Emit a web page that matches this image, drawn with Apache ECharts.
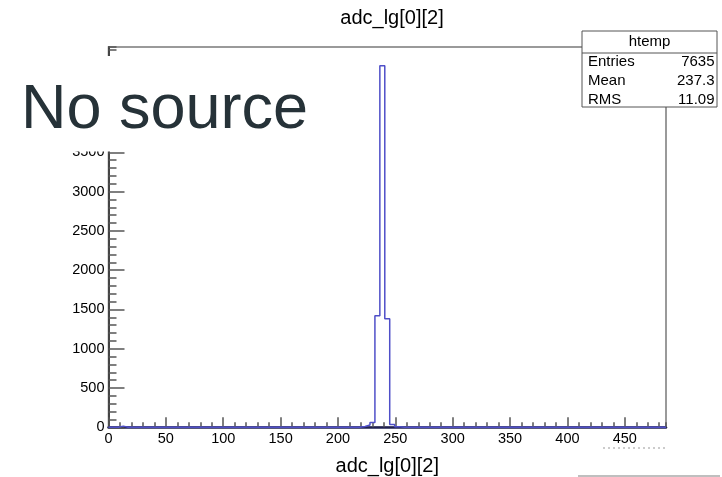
<!DOCTYPE html>
<html>
<head>
<meta charset="utf-8">
<script src="https://cdn.jsdelivr.net/npm/echarts@6/dist/echarts.min.js"></script>
<style>
  html, body { margin: 0; padding: 0; background: #fff; }
  #chart { width: 722px; height: 477px; }
</style>
</head>
<body>
<div id="chart"></div>
<script>
// Histogram of adc_lg[0][2]: fixed-width bins, only non-empty bins listed
const binWidth = 4.3;
const nBins = 113;
const binIndex = [2, 51, 52, 53, 54, 55, 56, 57, 58];
const binCount = [15, 10, 30, 60, 1420, 4600, 1380, 35, 8];

// Axis settings
const xMax = nBins * binWidth;
const yMax = 4840;
const xMajor = 50, xMinor = 10;
const yMajor = 500, yMinor = 100;

// Statistics box
const statsTitle = 'htemp';
const statsNames = ['Entries', 'Mean', 'RMS'];
const statsValues = ['7635', '237.3', '11.09'];

const FONT = '"Liberation Sans", Arial, Helvetica, sans-serif';

// Expand into one count per bin, then into step outline points
const counts = new Array(nBins).fill(0);
binIndex.forEach((b, i) => { counts[b] = binCount[i]; });
const outline = counts.map((c, i) => [i * binWidth, c]);
outline.push([nBins * binWidth, 0]);

const chart = echarts.init(document.getElementById('chart'));

const G = { left: 108.5, top: 47, right: 722 - 666, bottom: 477 - 427.3 };

const graphics = [
  // label panel over the upper-left corner
  { type: 'rect', z: 100, shape: { x: 0, y: 56, width: 320, height: 95.5 }, style: { fill: '#fff' } },
  { type: 'text', z: 101, left: 21, top: 79,
    style: { text: 'No source', fontSize: 63, fontFamily: FONT, fill: '#263238' } },
  // stats box
  { type: 'rect', z: 100, shape: { x: 582, y: 31, width: 135, height: 76 },
    style: { fill: '#fff', stroke: '#555', lineWidth: 1 } },
  { type: 'line', z: 101, shape: { x1: 582, y1: 53, x2: 717, y2: 53 }, style: { stroke: '#555', lineWidth: 1 } },
  { type: 'text', z: 101, x: 649.5, y: 42,
    style: { text: statsTitle, fontSize: 15, fontFamily: FONT, fill: '#000', align: 'center', verticalAlign: 'middle' } },
  // footer rule
  { type: 'line', z: 100, shape: { x1: 578, y1: 476, x2: 720, y2: 476 }, style: { stroke: '#aaa', lineWidth: 1.5 } },
  { type: 'line', z: 100, shape: { x1: 603, y1: 448, x2: 666, y2: 448 }, style: { stroke: '#999', lineWidth: 1, lineDash: [2, 3] } }
];
statsNames.forEach((n, i) => {
  const y = 61.5 + i * 19;
  graphics.push({ type: 'text', z: 101, x: 588, y: y,
    style: { text: n, fontSize: 15, fontFamily: FONT, fill: '#000', align: 'left', verticalAlign: 'middle' } });
  graphics.push({ type: 'text', z: 101, x: 714.5, y: y,
    style: { text: statsValues[i], fontSize: 15, fontFamily: FONT, fill: '#000', align: 'right', verticalAlign: 'middle' } });
});

chart.setOption({
  animation: false,
  backgroundColor: '#fff',
  title: {
    text: 'adc_lg[0][2]',
    left: 387, top: 3, textAlign: 'center',
    textStyle: { fontSize: 20, fontWeight: 'normal', fontFamily: FONT, color: '#000' }
  },
  grid: { ...G, outerBoundsMode: 'none', containLabel: false, show: true,
    borderColor: '#7a7a7a', borderWidth: 1.5, backgroundColor: '#fff' },
  xAxis: [
    {
      type: 'value', min: 0, max: xMax, interval: xMajor,
      name: 'adc_lg[0][2]', nameLocation: 'middle', nameGap: 29,
      nameTextStyle: { fontSize: 20, fontFamily: FONT, color: '#000' },
      axisLine: { show: true, lineStyle: { color: '#1f2050', width: 2.5 } },
      axisTick: { show: true, inside: true, length: 10, lineStyle: { color: '#555', width: 1.5 } },
      axisLabel: { showMaxLabel: false, fontSize: 14.5, fontFamily: FONT, color: '#000', margin: 4,
        formatter: v => String(Math.round(v)) },
      splitLine: { show: false }
    },
    {
      type: 'value', min: 0, max: xMax, interval: xMinor, position: 'bottom',
      axisLine: { show: false },
      axisTick: { show: true, inside: true, length: 5, lineStyle: { color: '#555', width: 1.5 } },
      axisLabel: { show: false },
      splitLine: { show: false }
    }
  ],
  yAxis: [
    {
      type: 'value', min: 0, max: yMax, interval: yMajor,
      axisLine: { show: true, lineStyle: { color: '#444', width: 2 } },
      axisTick: { show: true, inside: true, length: 16, lineStyle: { color: '#555', width: 1.5 } },
      axisLabel: { showMaxLabel: false, fontSize: 14.5, fontFamily: FONT, color: '#000', margin: 4,
        formatter: v => String(Math.round(v)) },
      splitLine: { show: false }
    },
    {
      type: 'value', min: 0, max: yMax, interval: yMinor, position: 'left',
      axisLine: { show: false },
      axisTick: { show: true, inside: true, length: 8, lineStyle: { color: '#555', width: 1.5 } },
      axisLabel: { show: false },
      splitLine: { show: false }
    }
  ],
  series: [{
    type: 'line',
    step: 'end',
    data: outline,
    showSymbol: false,
    z: 5,
    lineStyle: { color: '#4f4fc8', width: 1.5 }
  }],
  graphic: graphics
});
</script>
</body>
</html>
